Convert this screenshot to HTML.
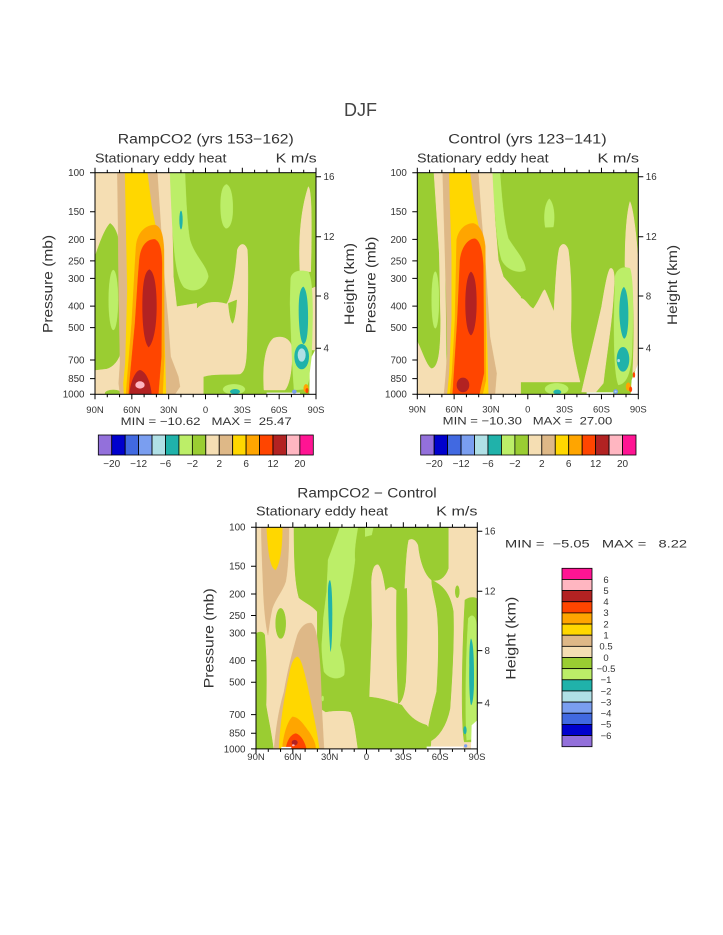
<!DOCTYPE html>
<html><head><meta charset="utf-8"><style>
html,body{margin:0;padding:0;background:#fff;}
svg{display:block;}
text{font-family:"Liberation Sans",sans-serif;fill:#333;}
.g{fill:#9ACD32;stroke:#9ACD32;stroke-width:1.5}.lg{fill:#BCEE68;stroke:#BCEE68;stroke-width:1}.w{fill:#F5DEB3;stroke:#F5DEB3;stroke-width:1.5}.t{fill:#DEB887;stroke:#DEB887;stroke-width:1}.y{fill:#FFD700;stroke:#FFD700;stroke-width:1}.o{fill:#FFA500;stroke:#FFA500;stroke-width:1}.r{fill:#FF4500;stroke:#FF4500;stroke-width:1}.f{fill:#B22222}.p{fill:#FFB6C1}.tl{fill:#20B2AA}.pb{fill:#B0E0E6}.cb{fill:#7A9EF0}.wh{fill:#fff}
.ax{fill:none;stroke:#000;stroke-width:1}
.lb{stroke:#000;stroke-width:0.8}
</style></head><body>
<svg width="723" height="935" viewBox="0 0 723 935" xmlns="http://www.w3.org/2000/svg">
<rect width="723" height="935" fill="#fff"/>
<text x="360.5" y="116" font-size="18" text-anchor="middle" textLength="33" lengthAdjust="spacingAndGlyphs" style="fill:#444">DJF</text>

<!-- ================= PLOT 1 ================= -->
<svg x="95" y="172.7" width="221" height="221.6" viewBox="165 248 663 665" preserveAspectRatio="none">
<rect x="165" y="248" width="663" height="665" class="g"/>
<path class="w" d="M165,248 L245,248 L250,913 L165,913 Z"/>
<path class="g" d="M165,500 C175,470 192,420 210,400 C226,410 236,440 240,475 L244,780 C236,812 220,830 200,836 L165,840 Z"/>
<ellipse class="lg" cx="220" cy="630" rx="14" ry="90"/>
<ellipse class="g" cx="220" cy="910" rx="25" ry="10"/>
<path class="w" d="M340,248 L392,248 L397,420 L400,560 L410,650 L470,640 L470,913 L390,913 Z"/>
<path class="lg" d="M390,248 L435,248 C438,320 441,400 450,450 C465,500 500,525 505,560 C495,600 460,610 432,592 C410,565 404,500 400,450 C395,380 392,300 390,248 Z"/>
<ellipse class="tl" cx="423" cy="390" rx="5" ry="28"/>
<path class="lg" d="M560,283 C575,290 580,330 578,370 C576,400 568,415 558,415 C545,410 540,370 542,330 C544,300 550,285 560,283 Z"/>
<path class="w" d="M468,913 L468,660 C480,640 520,630 560,642 C575,620 585,560 592,480 C598,460 615,455 622,480 C626,560 622,700 620,780 C618,820 615,845 600,852 C560,855 520,850 490,860 L490,913 Z"/>
<path class="g" d="M565,640 C568,670 572,695 578,700 C584,690 588,660 590,630 Z"/>
<path class="w" d="M672,900 C668,840 672,770 700,745 C725,735 750,745 755,770 C758,820 752,880 735,900 Z"/>
<ellipse class="lg" cx="582" cy="898" rx="33" ry="15"/>
<ellipse class="tl" cx="585" cy="905" rx="15" ry="8"/>
<path class="w" d="M780,545 C775,450 782,360 805,290 C815,300 816,400 812,545 Z"/>
<path class="w" d="M805,600 L828,590 L828,780 L808,780 Z"/>
<path class="lg" d="M752,565 C756,545 775,538 805,545 C818,570 820,640 816,760 C813,840 810,880 795,898 L762,900 C756,820 752,700 750,640 Z"/>
<path class="tl" d="M790,590 C802,600 805,650 804,700 C803,740 798,762 790,762 C780,755 776,700 776,660 C776,620 780,595 790,590 Z"/>
<ellipse class="tl" cx="785" cy="800" rx="22" ry="38"/>
<ellipse class="pb" cx="785" cy="795" rx="12" ry="20"/>
<path class="t" d="M232,248 L352,248 L362,400 L372,550 L385,700 L392,800 L415,860 L420,890 L405,913 L240,913 L236,880 L240,820 L236,600 L234,400 Z"/>
<path class="y" d="M255,248 L322,248 L335,350 L355,450 L368,600 L375,800 L378,913 L252,913 L250,880 L256,820 L262,600 L258,400 Z"/>
<path class="o" d="M288,470 C292,425 318,405 345,405 C365,410 370,440 372,480 L373,800 L368,913 L258,913 L262,860 L275,700 L285,520 Z"/>
<path class="r" d="M298,510 C302,465 322,447 345,448 C360,455 365,480 366,520 L364,800 L355,913 L266,913 L270,860 L285,700 L294,560 Z"/>
<path class="f" d="M328,538 C345,545 350,600 350,650 C350,710 340,760 326,772 C312,760 307,700 307,650 C307,590 312,545 328,538 Z"/>
<path class="f" d="M268,913 C270,880 285,842 300,840 C320,845 332,880 335,913 Z"/>
<ellipse class="p" cx="300" cy="885" rx="14" ry="11"/>
<path class="wh" d="M808,913 L809,850 L815,800 L828,775 L828,913 Z"/>
<rect class="wh" x="680" y="908" width="100" height="5"/>
<ellipse class="cb" cx="763" cy="905" rx="7" ry="6"/>
<ellipse class="o" cx="798" cy="895" rx="7" ry="12"/>
<ellipse class="r" cx="801" cy="902" rx="4" ry="7"/>
</svg>
<g transform="translate(95,172.7)">
<rect class="ax" x="0" y="0" width="221" height="221.6"/>
<path class="ax" d="M0,0v-5M12.28,0v-3M24.56,0v-3M36.83,0v-5M49.11,0v-3M61.39,0v-3M73.67,0v-5M85.94,0v-3M98.22,0v-3M110.5,0v-5M122.78,0v-3M135.06,0v-3M147.33,0v-5M159.61,0v-3M171.89,0v-3M184.17,0v-5M196.44,0v-3M208.72,0v-3M221,0v-5"/>
<path class="ax" d="M0,221.6v5M12.28,221.6v3M24.56,221.6v3M36.83,221.6v5M49.11,221.6v3M61.39,221.6v3M73.67,221.6v5M85.94,221.6v3M98.22,221.6v3M110.5,221.6v5M122.78,221.6v3M135.06,221.6v3M147.33,221.6v5M159.61,221.6v3M171.89,221.6v3M184.17,221.6v5M196.44,221.6v3M208.72,221.6v3M221,221.6v5"/>
<path class="ax" d="M0,0h-5M0,39h-5M0,66.7h-5M0,88.2h-5M0,105.7h-5M0,133.4h-5M0,154.9h-5M0,187.3h-5M0,205.9h-5M0,221.6h-5"/>
<path class="ax" d="M221,4h5M221,64h5M221,123.3h5M221,175.6h5"/>
<g font-size="9.8" text-anchor="end">
<text x="-10.5" y="3.4">100</text><text x="-10.5" y="42.4">150</text><text x="-10.5" y="70.1">200</text><text x="-10.5" y="91.6">250</text><text x="-10.5" y="109.1">300</text><text x="-10.5" y="136.8">400</text><text x="-10.5" y="158.3">500</text><text x="-10.5" y="190.7">700</text><text x="-10.5" y="209.3">850</text><text x="-10.5" y="225">1000</text>
</g>
<g font-size="9.8"><text x="228.5" y="7.4">16</text><text x="228.5" y="67.4">12</text><text x="228.5" y="126.7">8</text><text x="228.5" y="179">4</text></g>
<g font-size="9.5" text-anchor="middle">
<text x="0" y="240.3">90N</text><text x="36.83" y="240.3">60N</text><text x="73.67" y="240.3">30N</text><text x="110.5" y="240.3">0</text><text x="147.33" y="240.3">30S</text><text x="184.17" y="240.3">60S</text><text x="221" y="240.3">90S</text>
</g>
</g>
<text x="205.8" y="143.5" font-size="13.5" text-anchor="middle" textLength="176" lengthAdjust="spacingAndGlyphs">RampCO2 (yrs 153−162)</text>
<text x="95" y="162.5" font-size="12.5" textLength="131.5" lengthAdjust="spacingAndGlyphs">Stationary eddy heat</text>
<text x="316.7" y="162.5" font-size="12.5" text-anchor="end" textLength="41" lengthAdjust="spacingAndGlyphs">K m/s</text>
<text transform="translate(52.5,284) rotate(-90)" font-size="13.5" text-anchor="middle" textLength="98" lengthAdjust="spacingAndGlyphs">Pressure (mb)</text>
<text transform="translate(354,284) rotate(-90)" font-size="13.5" text-anchor="middle" textLength="82" lengthAdjust="spacingAndGlyphs">Height (km)</text>
<text x="206.2" y="425" font-size="11" text-anchor="middle" textLength="171" lengthAdjust="spacingAndGlyphs" xml:space="preserve">MIN = −10.62   MAX =  25.47</text>

<!-- labelbar 1 -->
<g class="lb">
<rect x="98.3" y="435" width="13.44" height="20" fill="#9370DB"/><rect x="111.74" y="435" width="13.44" height="20" fill="#0000CD"/><rect x="125.18" y="435" width="13.44" height="20" fill="#4169E1"/><rect x="138.61" y="435" width="13.44" height="20" fill="#7A9EF0"/><rect x="152.05" y="435" width="13.44" height="20" fill="#B0E0E6"/><rect x="165.49" y="435" width="13.44" height="20" fill="#20B2AA"/><rect x="178.93" y="435" width="13.44" height="20" fill="#BCEE68"/><rect x="192.36" y="435" width="13.44" height="20" fill="#9ACD32"/><rect x="205.8" y="435" width="13.44" height="20" fill="#F5DEB3"/><rect x="219.24" y="435" width="13.44" height="20" fill="#DEB887"/><rect x="232.68" y="435" width="13.44" height="20" fill="#FFD700"/><rect x="246.11" y="435" width="13.44" height="20" fill="#FFA500"/><rect x="259.55" y="435" width="13.44" height="20" fill="#FF4500"/><rect x="272.99" y="435" width="13.44" height="20" fill="#B22222"/><rect x="286.43" y="435" width="13.44" height="20" fill="#FFB6C1"/><rect x="299.86" y="435" width="13.44" height="20" fill="#FF1493"/>
</g>
<g font-size="10" text-anchor="middle">
<text x="111.7" y="467">−20</text><text x="138.6" y="467">−12</text><text x="165.5" y="467">−6</text><text x="192.4" y="467">−2</text><text x="219.3" y="467">2</text><text x="246.1" y="467">6</text><text x="273" y="467">12</text><text x="299.9" y="467">20</text>
</g>

<!-- ================= PLOT 2 ================= -->
<svg x="417.3" y="172.7" width="221" height="221.6" viewBox="172 158 663 665" preserveAspectRatio="none">
<rect x="172" y="158" width="663" height="665" class="g"/>
<path class="w" d="M222,158 L252,158 L260,823 L172,823 L172,665 C185,690 200,740 215,746 C235,742 242,700 242,600 L238,400 Z"/>
<ellipse class="lg" cx="226" cy="540" rx="11" ry="85"/>
<path class="w" d="M345,158 L398,158 L405,300 L415,420 L430,470 L482,530 L482,823 L400,823 Z"/>
<path class="lg" d="M398,158 L420,158 C425,220 430,300 445,355 C470,395 495,420 497,450 C480,462 440,452 425,420 C412,380 405,300 398,158 Z"/>
<path class="lg" d="M568,236 C582,250 586,290 580,321 L556,322 C550,290 554,250 568,236 Z"/>
<path class="w" d="M478,786 L478,536 C495,530 505,560 520,566 C540,540 550,505 555,510 C565,530 575,560 582,575 C586,500 590,420 598,385 C605,368 618,368 625,390 C633,450 635,520 633,600 C630,650 640,700 660,786 Z"/>
<path class="w" d="M750,446 C760,440 765,460 762,500 C758,600 740,700 730,790 L708,816 L665,816 C680,750 705,650 725,560 C735,500 742,460 750,446 Z"/>
<ellipse class="lg" cx="590" cy="807" rx="35" ry="17"/>
<ellipse class="tl" cx="592" cy="816" rx="12" ry="7"/>
<path class="w" d="M810,245 C822,270 832,380 835,430 L835,740 L818,760 C824,650 822,500 812,450 L795,440 C795,350 800,280 810,245 Z"/>
<path class="lg" d="M765,470 C770,445 790,438 810,445 C822,480 820,600 816,700 C812,760 800,792 775,795 C765,770 762,700 762,600 Z"/>
<path class="tl" d="M792,501 C803,511 806,560 805,600 C804,635 799,656 792,656 C783,649 778,600 778,575 C778,540 783,506 792,501 Z"/>
<ellipse class="tl" cx="789" cy="718" rx="19" ry="37"/>
<ellipse class="pb" cx="776" cy="722" rx="4" ry="5"/>
<path class="t" d="M248,158 L355,158 L365,300 L378,450 L390,650 L410,760 L405,823 L252,823 L256,780 L262,700 L258,500 L252,300 Z"/>
<path class="y" d="M268,158 L330,158 L342,250 L362,350 L375,500 L382,700 L385,823 L262,823 L268,760 L275,600 L275,400 L270,250 Z"/>
<path class="o" d="M290,360 C295,330 315,310 340,310 C360,315 372,340 376,380 L378,780 L368,823 L270,823 L276,760 L285,600 Z"/>
<path class="r" d="M300,420 C305,380 325,356 345,356 C362,362 368,400 370,440 L372,760 L358,823 L278,823 L282,760 L292,600 Z"/>
<path class="f" d="M333,455 C347,465 350,510 350,550 C350,600 343,640 333,646 C322,640 316,600 316,550 C316,505 322,462 333,455 Z"/>
<ellipse class="f" cx="309" cy="795" rx="19" ry="22"/>
<path class="wh" d="M812,823 L815,780 L835,730 L835,823 Z"/>
<rect class="wh" x="680" y="817" width="80" height="6"/>
<ellipse class="cb" cx="767" cy="815" rx="7" ry="7"/>
<ellipse class="pb" cx="767" cy="815" rx="3" ry="3"/>
<ellipse class="o" cx="805" cy="800" rx="7" ry="12"/>
<ellipse class="r" cx="812" cy="808" rx="4" ry="8"/>
<ellipse class="r" cx="822" cy="765" rx="3" ry="8"/>
</svg>
<g transform="translate(417.3,172.7)">
<rect class="ax" x="0" y="0" width="221" height="221.6"/>
<path class="ax" d="M0,0v-5M12.28,0v-3M24.56,0v-3M36.83,0v-5M49.11,0v-3M61.39,0v-3M73.67,0v-5M85.94,0v-3M98.22,0v-3M110.5,0v-5M122.78,0v-3M135.06,0v-3M147.33,0v-5M159.61,0v-3M171.89,0v-3M184.17,0v-5M196.44,0v-3M208.72,0v-3M221,0v-5"/>
<path class="ax" d="M0,221.6v5M12.28,221.6v3M24.56,221.6v3M36.83,221.6v5M49.11,221.6v3M61.39,221.6v3M73.67,221.6v5M85.94,221.6v3M98.22,221.6v3M110.5,221.6v5M122.78,221.6v3M135.06,221.6v3M147.33,221.6v5M159.61,221.6v3M171.89,221.6v3M184.17,221.6v5M196.44,221.6v3M208.72,221.6v3M221,221.6v5"/>
<path class="ax" d="M0,0h-5M0,39h-5M0,66.7h-5M0,88.2h-5M0,105.7h-5M0,133.4h-5M0,154.9h-5M0,187.3h-5M0,205.9h-5M0,221.6h-5"/>
<path class="ax" d="M221,4h5M221,64h5M221,123.3h5M221,175.6h5"/>
<g font-size="9.8" text-anchor="end">
<text x="-10.5" y="3.4">100</text><text x="-10.5" y="42.4">150</text><text x="-10.5" y="70.1">200</text><text x="-10.5" y="91.6">250</text><text x="-10.5" y="109.1">300</text><text x="-10.5" y="136.8">400</text><text x="-10.5" y="158.3">500</text><text x="-10.5" y="190.7">700</text><text x="-10.5" y="209.3">850</text><text x="-10.5" y="225">1000</text>
</g>
<g font-size="9.8"><text x="228.5" y="7.4">16</text><text x="228.5" y="67.4">12</text><text x="228.5" y="126.7">8</text><text x="228.5" y="179">4</text></g>
<g font-size="9.5" text-anchor="middle">
<text x="0" y="240">90N</text><text x="36.83" y="240">60N</text><text x="73.67" y="240">30N</text><text x="110.5" y="240">0</text><text x="147.33" y="240">30S</text><text x="184.17" y="240">60S</text><text x="221" y="240">90S</text>
</g>
</g>
<text x="527.5" y="143.5" font-size="13.5" text-anchor="middle" textLength="158.4" lengthAdjust="spacingAndGlyphs">Control (yrs 123−141)</text>
<text x="417" y="162.5" font-size="12.5" textLength="131.6" lengthAdjust="spacingAndGlyphs">Stationary eddy heat</text>
<text x="639" y="162.5" font-size="12.5" text-anchor="end" textLength="41.5" lengthAdjust="spacingAndGlyphs">K m/s</text>
<text transform="translate(375.5,285) rotate(-90)" font-size="13.5" text-anchor="middle" textLength="96.6" lengthAdjust="spacingAndGlyphs">Pressure (mb)</text>
<text transform="translate(677,285) rotate(-90)" font-size="13.5" text-anchor="middle" textLength="80" lengthAdjust="spacingAndGlyphs">Height (km)</text>
<text x="527.5" y="424.5" font-size="11" text-anchor="middle" textLength="169.6" lengthAdjust="spacingAndGlyphs" xml:space="preserve">MIN = −10.30   MAX =  27.00</text>

<!-- labelbar 2 -->
<g class="lb">
<rect x="420.7" y="435" width="13.46" height="20" fill="#9370DB"/><rect x="434.16" y="435" width="13.46" height="20" fill="#0000CD"/><rect x="447.61" y="435" width="13.46" height="20" fill="#4169E1"/><rect x="461.07" y="435" width="13.46" height="20" fill="#7A9EF0"/><rect x="474.52" y="435" width="13.46" height="20" fill="#B0E0E6"/><rect x="487.98" y="435" width="13.46" height="20" fill="#20B2AA"/><rect x="501.44" y="435" width="13.46" height="20" fill="#BCEE68"/><rect x="514.89" y="435" width="13.46" height="20" fill="#9ACD32"/><rect x="528.35" y="435" width="13.46" height="20" fill="#F5DEB3"/><rect x="541.8" y="435" width="13.46" height="20" fill="#DEB887"/><rect x="555.26" y="435" width="13.46" height="20" fill="#FFD700"/><rect x="568.72" y="435" width="13.46" height="20" fill="#FFA500"/><rect x="582.17" y="435" width="13.46" height="20" fill="#FF4500"/><rect x="595.63" y="435" width="13.46" height="20" fill="#B22222"/><rect x="609.08" y="435" width="13.46" height="20" fill="#FFB6C1"/><rect x="622.54" y="435" width="13.46" height="20" fill="#FF1493"/>
</g>
<g font-size="10" text-anchor="middle">
<text x="434.2" y="467">−20</text><text x="461.1" y="467">−12</text><text x="488" y="467">−6</text><text x="514.9" y="467">−2</text><text x="541.8" y="467">2</text><text x="568.7" y="467">6</text><text x="595.6" y="467">12</text><text x="622.5" y="467">20</text>
</g>

<!-- ================= PLOT 3 ================= -->
<svg x="256" y="527.3" width="109" height="221.6" viewBox="6 7 327 664" preserveAspectRatio="none">
<rect x="0" y="0" width="340" height="680" class="w"/>
<path class="g" d="M120,7 L333,7 L333,671 L312,671 C305,620 300,580 290,560 C270,555 240,556 215,560 L192,545 L190,400 L190,260 C175,240 150,232 135,218 C124,180 120,120 120,7 Z"/>
<path class="lg" d="M258,7 L312,7 C306,40 300,80 303,105 C298,150 292,180 288,200 C280,240 272,260 268,280 C262,320 260,350 258,360 C268,400 275,430 270,450 C255,465 225,462 210,440 C204,400 203,370 203,360 C206,320 208,290 208,280 C212,250 215,220 218,200 C220,150 222,120 222,105 C235,70 248,35 258,7 Z"/>
<path class="tl" d="M228,165 C235,180 236,260 234,330 C233,360 231,380 229,380 C225,330 222,250 222,200 C222,180 224,168 228,165 Z"/>
<path class="t" d="M22,7 L105,7 C105,60 103,130 95,170 C85,200 65,220 55,250 C48,280 45,310 42,330 C35,300 30,250 28,200 C25,120 22,60 22,7 Z"/>
<path class="y" d="M38,7 L85,7 C85,60 80,110 65,135 C50,130 42,90 38,7 Z"/>
<path class="g" d="M6,325 C18,318 28,320 32,330 C38,400 38,480 36,540 C42,580 52,620 58,671 L6,671 Z"/>
<ellipse class="g" cx="80" cy="295" rx="15" ry="45"/>
<path class="t" d="M60,671 C65,620 72,560 90,500 C100,440 115,380 130,330 C140,305 155,292 172,294 C190,305 196,380 200,450 L204,560 L210,671 Z"/>
<path class="y" d="M75,671 C78,600 90,520 105,450 C112,415 120,397 130,395 C142,400 150,440 160,480 C172,540 186,600 196,671 Z"/>
<path class="o" d="M85,671 C88,630 100,590 115,575 C135,575 150,600 165,620 C178,640 185,655 185,671 Z"/>
<path class="r" d="M95,671 C100,645 110,628 125,625 C140,628 152,650 157,671 Z"/>
<ellipse class="f" cx="122" cy="652" rx="9" ry="8"/>
<ellipse class="p" cx="118" cy="660" rx="4" ry="3"/>
<rect class="wh" x="82" y="665" width="30" height="6"/>
<ellipse class="lg" cx="206" cy="520" rx="3" ry="8"/>
</svg>
<svg x="365" y="527.3" width="112.3" height="221.6" viewBox="0 7 337 664" preserveAspectRatio="none">
<rect x="0" y="0" width="340" height="680" class="w"/>
<path class="g" d="M0,7 L250,7 L250,130 C240,160 220,170 200,165 C180,150 165,110 160,60 C152,42 140,38 130,45 C122,80 120,150 118,190 L95,195 C85,185 75,180 62,195 C58,170 52,130 40,118 C28,115 20,130 18,170 L20,300 L16,420 L12,520 L0,520 Z"/>
<path class="g" d="M95,195 L125,190 C128,280 126,400 122,470 C118,510 110,530 100,535 C96,450 93,300 95,195 Z"/>
<path class="g" d="M200,165 C230,180 255,200 265,260 C268,350 262,450 255,550 C245,600 220,640 190,650 C182,620 200,560 215,500 C222,400 222,300 215,250 C208,210 200,190 200,165 Z"/>
<path class="g" d="M0,515 C40,515 80,530 110,540 C130,570 150,590 185,600 C200,620 200,650 195,671 L0,671 Z"/>
<path class="lg" d="M0,7 L25,7 L20,30 L0,35 Z"/>
<path class="g" d="M300,225 C318,212 337,218 337,225 L337,650 L298,650 C288,600 290,400 300,225 Z"/>
<path class="lg" d="M310,280 C320,265 332,270 335,300 L335,640 L305,645 C300,560 302,400 310,280 Z"/>
<path class="tl" d="M318,340 C326,350 328,420 327,480 C326,520 322,540 318,540 C313,520 312,460 313,420 C313,380 314,350 318,340 Z"/>
<ellipse class="tl" cx="300" cy="615" rx="5" ry="12"/>
<ellipse class="g" cx="277" cy="200" rx="6" ry="18"/>
<rect class="wh" x="185" y="664" width="110" height="7"/>
<path class="wh" d="M318,671 L320,600 L337,585 L337,671 Z"/>
<ellipse class="cb" cx="302" cy="662" rx="5" ry="5"/>
</svg>
<g transform="translate(256,527.3)">
<rect class="ax" x="0" y="0" width="221.3" height="221.6"/>
<path class="ax" d="M0,0v-5M12.28,0v-3M24.56,0v-3M36.83,0v-5M49.11,0v-3M61.39,0v-3M73.67,0v-5M85.94,0v-3M98.22,0v-3M110.5,0v-5M122.78,0v-3M135.06,0v-3M147.33,0v-5M159.61,0v-3M171.89,0v-3M184.17,0v-5M196.44,0v-3M208.72,0v-3M221.3,0v-5"/>
<path class="ax" d="M0,221.6v5M12.28,221.6v3M24.56,221.6v3M36.83,221.6v5M49.11,221.6v3M61.39,221.6v3M73.67,221.6v5M85.94,221.6v3M98.22,221.6v3M110.5,221.6v5M122.78,221.6v3M135.06,221.6v3M147.33,221.6v5M159.61,221.6v3M171.89,221.6v3M184.17,221.6v5M196.44,221.6v3M208.72,221.6v3M221.3,221.6v5"/>
<path class="ax" d="M0,0h-5M0,39h-5M0,66.7h-5M0,88.2h-5M0,105.7h-5M0,133.4h-5M0,154.9h-5M0,187.3h-5M0,205.9h-5M0,221.6h-5"/>
<path class="ax" d="M221.3,4h5M221.3,64h5M221.3,123.3h5M221.3,175.6h5"/>
<g font-size="9.8" text-anchor="end">
<text x="-10.5" y="3.4">100</text><text x="-10.5" y="42.4">150</text><text x="-10.5" y="70.1">200</text><text x="-10.5" y="91.6">250</text><text x="-10.5" y="109.1">300</text><text x="-10.5" y="136.8">400</text><text x="-10.5" y="158.3">500</text><text x="-10.5" y="190.7">700</text><text x="-10.5" y="209.3">850</text><text x="-10.5" y="225">1000</text>
</g>
<g font-size="9.8"><text x="228.5" y="7.4">16</text><text x="228.5" y="67.4">12</text><text x="228.5" y="126.7">8</text><text x="228.5" y="179">4</text></g>
<g font-size="9.5" text-anchor="middle">
<text x="0" y="232.7">90N</text><text x="36.83" y="232.7">60N</text><text x="73.67" y="232.7">30N</text><text x="110.5" y="232.7">0</text><text x="147.33" y="232.7">30S</text><text x="184.17" y="232.7">60S</text><text x="221" y="232.7">90S</text>
</g>
</g>
<text x="367" y="497.5" font-size="13.5" text-anchor="middle" textLength="139.4" lengthAdjust="spacingAndGlyphs">RampCO2 − Control</text>
<text x="256" y="515.5" font-size="12.5" textLength="132" lengthAdjust="spacingAndGlyphs">Stationary eddy heat</text>
<text x="477.5" y="515.5" font-size="12.5" text-anchor="end" textLength="41.3" lengthAdjust="spacingAndGlyphs">K m/s</text>
<text transform="translate(213.7,638.3) rotate(-90)" font-size="13.5" text-anchor="middle" textLength="100" lengthAdjust="spacingAndGlyphs">Pressure (mb)</text>
<text transform="translate(515.5,638.3) rotate(-90)" font-size="13.5" text-anchor="middle" textLength="83" lengthAdjust="spacingAndGlyphs">Height (km)</text>
<text x="505" y="547.3" font-size="11" textLength="182" lengthAdjust="spacingAndGlyphs" xml:space="preserve">MIN =  −5.05   MAX =   8.22</text>

<!-- vertical labelbar -->
<g class="lb">
<rect x="562" y="568.3" width="30" height="11.15" fill="#FF1493"/><rect x="562" y="579.45" width="30" height="11.15" fill="#FFB6C1"/><rect x="562" y="590.6" width="30" height="11.15" fill="#B22222"/><rect x="562" y="601.75" width="30" height="11.15" fill="#FF4500"/><rect x="562" y="612.9" width="30" height="11.15" fill="#FFA500"/><rect x="562" y="624.05" width="30" height="11.15" fill="#FFD700"/><rect x="562" y="635.2" width="30" height="11.15" fill="#DEB887"/><rect x="562" y="646.35" width="30" height="11.15" fill="#F5DEB3"/><rect x="562" y="657.5" width="30" height="11.15" fill="#9ACD32"/><rect x="562" y="668.65" width="30" height="11.15" fill="#BCEE68"/><rect x="562" y="679.8" width="30" height="11.15" fill="#20B2AA"/><rect x="562" y="690.95" width="30" height="11.15" fill="#B0E0E6"/><rect x="562" y="702.1" width="30" height="11.15" fill="#7A9EF0"/><rect x="562" y="713.25" width="30" height="11.15" fill="#4169E1"/><rect x="562" y="724.4" width="30" height="11.15" fill="#0000CD"/><rect x="562" y="735.55" width="30" height="11.15" fill="#9370DB"/>
</g>
<g font-size="9.5" text-anchor="middle">
<text x="606" y="582.8">6</text><text x="606" y="593.9">5</text><text x="606" y="605.1">4</text><text x="606" y="616.2">3</text><text x="606" y="627.4">2</text><text x="606" y="638.5">1</text><text x="606" y="649.7">0.5</text><text x="606" y="660.8">0</text><text x="606" y="672">−0.5</text><text x="606" y="683.1">−1</text><text x="606" y="694.3">−2</text><text x="606" y="705.4">−3</text><text x="606" y="716.6">−4</text><text x="606" y="727.7">−5</text><text x="606" y="738.9">−6</text>
</g>
</svg>
</body></html>
